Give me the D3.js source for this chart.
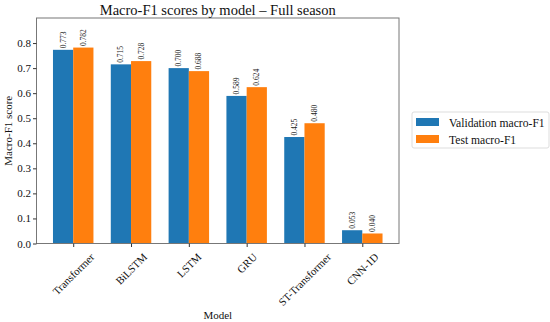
<!DOCTYPE html>
<html><head><meta charset="utf-8">
<script src="https://cdn.jsdelivr.net/npm/d3@7"></script>
<style>body{margin:0;background:#fff}svg{display:block}svg text{font-family:"Liberation Serif","Times New Roman",serif !important}</style>
</head><body>
<svg id="c" width="550" height="322"></svg>
<script>
const models = ["Transformer","BiLSTM","LSTM","GRU","ST-Transformer","CNN-1D"];
const valScores = [0.773,0.715,0.700,0.589,0.425,0.053];
const testScores = [0.782,0.728,0.688,0.624,0.480,0.040];
const seriesNames = ["Validation macro-F1","Test macro-F1"];
const seriesColors = ["#1f77b4","#ff7f0e"];
const yTicks = [0,0.1,0.2,0.3,0.4,0.5,0.6,0.7,0.8];

const svg = d3.select("#c");
const L=36.5, R=399, T=18, B=243.5;
const bw = 0.35;
const x = d3.scaleLinear().domain([-0.635, models.length-1+0.635]).range([L,R]);
const y = d3.scaleLinear().domain([0,0.9]).range([B,T]);
const series=[valScores,testScores];

series.forEach((vals,s)=>{
  const off = s===0 ? -bw : 0;
  svg.append("g").selectAll("rect").data(vals).join("rect")
    .attr("x",(d,i)=>x(i+off)).attr("width",x(bw)-x(0))
    .attr("y",d=>y(d)).attr("height",d=>y(0)-y(d))
    .attr("fill",seriesColors[s]);
  svg.append("g").selectAll("text").data(vals).join("text")
    .attr("transform",(d,i)=>`translate(${x(i+off+bw/2)+2.5},${y(d)-1.5}) rotate(-90)`)
    .attr("font-size",7.5).attr("fill","#222").text(d=>d.toFixed(3));
});

// frame
svg.append("rect").attr("x",L).attr("y",T).attr("width",R-L).attr("height",B-T)
  .attr("fill","none").attr("stroke","#777").attr("stroke-width",1);

// y axis
const ya = svg.append("g").attr("transform",`translate(${L},0)`)
  .call(d3.axisLeft(y).tickValues(yTicks).tickFormat(d3.format(".1f")).tickSize(3.5).tickPadding(2));
ya.select(".domain").remove();
ya.selectAll("line").attr("stroke","#333");
ya.selectAll("text").attr("font-size",11).attr("fill","#111");

// x axis
const xa = svg.append("g").attr("transform",`translate(0,${B})`)
  .call(d3.axisBottom(x).tickValues(d3.range(models.length)).tickFormat(i=>models[i]).tickSize(3.5));
xa.select(".domain").remove();
xa.selectAll("line").attr("stroke","#333");
xa.selectAll("text").attr("font-size",10.8).attr("fill","#111")
  .attr("text-anchor","middle").attr("dy","0.32em").attr("y",0)
  .attr("transform",function(){
    const w=this.getComputedTextLength(), h=10.8;
    const half=(w+h)*0.7071/2;
    return `translate(0,${8+half}) rotate(-45)`;
  });

// title and labels
svg.append("text").attr("x",(L+R)/2).attr("y",15).attr("text-anchor","middle")
  .attr("font-size",14.5).attr("fill","#111").text("Macro-F1 scores by model – Full season");
svg.append("text").attr("x",(L+R)/2).attr("y",319).attr("text-anchor","middle")
  .attr("font-size",11).attr("fill","#111").text("Model");
svg.append("text").attr("transform",`translate(12,${(T+B)/2}) rotate(-90)`).attr("text-anchor","middle")
  .attr("font-size",11).attr("fill","#111").text("Macro-F1 score");

// legend
const lg = svg.append("g");
lg.append("rect").attr("x",412).attr("y",112).attr("width",137).attr("height",36).attr("rx",2)
  .attr("fill","#fff").attr("stroke","#ddd");
seriesNames.forEach((n,i)=>{
  lg.append("rect").attr("x",416).attr("y",118+i*17).attr("width",23).attr("height",8).attr("fill",seriesColors[i]);
  lg.append("text").attr("x",449).attr("y",127+i*17).attr("font-size",11.6).attr("fill","#111").text(n);
});
</script>
</body></html>
